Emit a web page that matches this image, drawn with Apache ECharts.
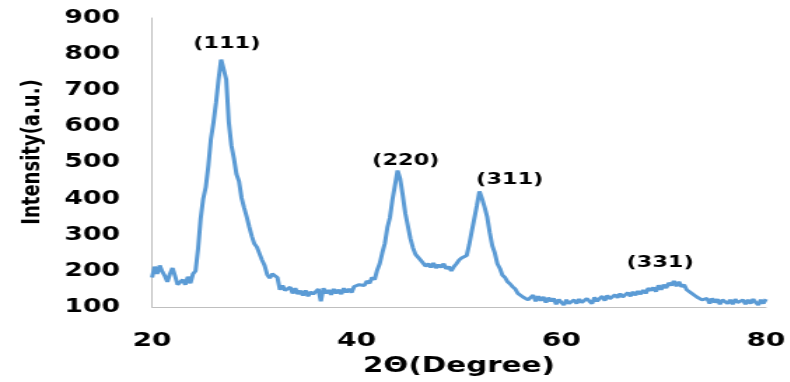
<!DOCTYPE html>
<html>
<head>
<meta charset="utf-8">
<script src="https://cdn.jsdelivr.net/npm/echarts@6/dist/echarts.min.js"></script>
<style>
  html, body { margin: 0; padding: 0; background: #fff; overflow: hidden; }
  #wrap { width: 790px; height: 382px; overflow: hidden; }
  /* chart is laid out narrow and widened horizontally */
  #chart { width: 564px; height: 382px; transform: scaleX(1.4); transform-origin: 0 0; }
</style>
</head>
<body>
<div id="wrap"><div id="chart"></div></div>
<script>
// XRD scan: 2-theta from 20 to 80 degrees, 0.25 degree steps
const scanStart = 20;
const scanStep = 0.25;

// measured intensity (a.u.), four readings per degree
const intensity = [
  182, 212, 192, 215,   // 20
  198, 186, 170, 192,   // 21
  208, 186, 162, 160,   // 22
  176, 162, 184, 166,   // 23
  192, 200, 262, 345,   // 24
  400, 432, 490, 565,   // 25
  610, 665, 730, 785,   // 26
  758, 730, 612, 548,   // 27
  512, 468, 448, 402,   // 28
  375, 350, 322, 296,   // 29
  275, 266, 265, 230,   // 30
  215, 190, 180, 192,   // 31
  188, 182, 148, 160,   // 32
  146, 144, 155, 138,   // 33
  152, 136, 145, 132,   // 34
  146, 130, 142, 136,   // 35
  133, 150, 116, 152,   // 36
  138, 147, 134, 150,   // 37
  138, 148, 136, 152,   // 38
  141, 150, 140, 157,   // 39
  158, 162, 164, 160,   // 40
  172, 166, 182, 176,   // 41
  202, 220, 250, 276,   // 42
  320, 348, 398, 438,   // 43
  478, 455, 410, 360,   // 44
  325, 290, 264, 246,   // 45
  242, 230, 227, 213,   // 46
  220, 210, 222, 208,   // 47
  217, 210, 220, 206,   // 48
  212, 200, 212, 220,   // 49
  230, 236, 234, 243,   // 50
  273, 310, 345, 382,   // 51
  420, 400, 377, 350,   // 52
  307, 270, 250, 220,   // 53
  207, 188, 182, 170,   // 54
  164, 156, 150, 138,   // 55
  140, 128, 130, 120,   // 56
  127, 133, 116, 130,   // 57
  118, 128, 113, 126,   // 58
  116, 124, 108, 121,   // 59
  113, 106, 120, 110,   // 60
  108, 120, 110, 122,   // 61
  113, 108, 124, 116,   // 62
  110, 127, 116, 124,   // 63
  130, 118, 132, 123,   // 64
  120, 134, 126, 137,   // 65
  128, 124, 140, 130,   // 66
  142, 133, 144, 136,   // 67
  147, 138, 152, 146,   // 68
  154, 143, 160, 148,   // 69
  162, 153, 167, 160,   // 70
  172, 158, 170, 156,   // 71
  162, 148, 147, 138,   // 72
  137, 128, 127, 120,   // 73
  122, 124, 110, 124,   // 74
  113, 122, 108, 120,   // 75
  124, 110, 120, 108,   // 76
  122, 113, 110, 120,   // 77
  108, 120, 110, 122,   // 78
  113, 106, 120, 110,   // 79
  122                   // 80
];

// reflection labels and where they sit (2-theta, intensity)
const peakNames = ['(111)', '(220)', '(311)', '(331)'];
const peakLabelAt = [[27.3, 829], [44.8, 505], [54.96, 453], [69.66, 223]];

const xTicks = { min: 20, max: 80, interval: 20 };
const yTicks = { min: 100, max: 900, interval: 100 };

const points = intensity.map((v, i) => [scanStart + i * scanStep, v]);

const font = 'DejaVu Sans';
const chart = echarts.init(document.getElementById('chart'));
chart.setOption({
  animation: false,
  backgroundColor: '#ffffff',
  grid: { left: 108.6, right: 15.4, top: 18, bottom: 72 },
  xAxis: {
    type: 'value',
    min: xTicks.min, max: xTicks.max, interval: xTicks.interval,
    name: '2Θ(Degree)',
    nameLocation: 'middle',
    nameGap: 37,
    nameTextStyle: { fontFamily: font, fontWeight: 'bold', fontSize: 21, color: '#000' },
    axisLine: { lineStyle: { color: '#bfbfbf', width: 1 } },
    axisTick: { show: false },
    splitLine: { show: false },
    axisLabel: { margin: 24, fontFamily: font, fontWeight: 'bold', fontSize: 20, color: '#000' }
  },
  yAxis: {
    type: 'value',
    min: yTicks.min, max: yTicks.max, interval: yTicks.interval,
    axisLine: { show: true, lineStyle: { color: '#bfbfbf', width: 1 } },
    axisTick: { show: false },
    splitLine: { show: false },
    axisLabel: { margin: 23, fontFamily: font, fontWeight: 'bold', fontSize: 19, color: '#000' }
  },
  graphic: [{
    type: 'text',
    x: 23.6, y: 152,
    rotation: Math.PI / 2,
    style: {
      text: 'Intensity(a.u.)',
      fontFamily: font, fontWeight: 'bold', fontSize: 18,
      fill: '#000', textAlign: 'center', textVerticalAlign: 'middle'
    }
  }],
  series: [{
    type: 'line',
    data: points,
    showSymbol: false,
    lineStyle: { color: '#5b9bd5', width: 3 },
    itemStyle: { color: '#5b9bd5' },
    markPoint: {
      symbol: 'circle',
      symbolSize: 0,
      label: {
        show: true, position: 'inside',
        fontFamily: font, fontWeight: 'bold', fontSize: 16, color: '#000'
      },
      data: peakNames.map((n, i) => ({
        coord: peakLabelAt[i],
        value: n,
        label: { formatter: n }
      }))
    }
  }]
});
</script>
</body>
</html>
